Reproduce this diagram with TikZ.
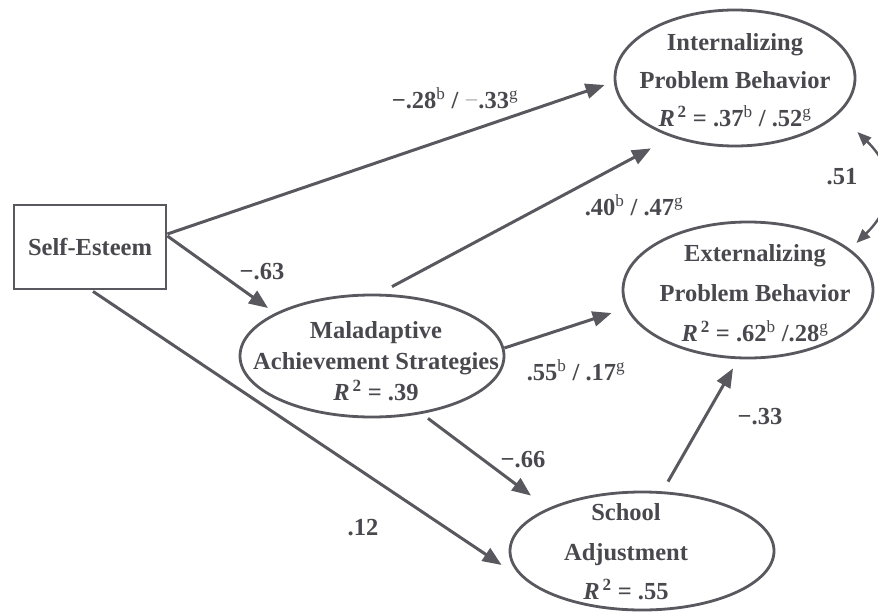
\documentclass[tikz,border=0pt]{standalone}
\usepackage{fontspec}
\setmainfont{Liberation Serif}
\usetikzlibrary{arrows.meta,shapes.geometric,calc}
\definecolor{ink}{RGB}{72,72,78}
\definecolor{linec}{RGB}{88,88,94}
\definecolor{faint}{RGB}{195,195,200}
% superscript group tags (b, g) in lighter weight; squared R keeps its bold 2
\newcommand{\hi}[1]{\textsuperscript{\mdseries#1}}
\newcommand{\sq}{\textsuperscript{\,2}}
\begin{document}
\begin{tikzpicture}[x=1pt,y=-1pt,
  every node/.style={text=ink, font=\bfseries\fontsize{24.5}{30}\selectfont},
  latent/.style={draw=linec, line width=2.8pt, ellipse, inner sep=0pt},
  observed/.style={draw=linec, line width=2.8pt, rectangle, inner sep=0pt},
  inner/.style={align=center, inner sep=0pt},
  pathc/.style={draw=linec, line width=3pt, -{Triangle[length=19pt,width=15pt]}},
  covc/.style={draw=linec, line width=2.4pt,
    {Triangle[length=14pt,width=11pt]}-{Triangle[length=14pt,width=11pt]}},
  coef/.style={inner sep=0pt}]
\useasboundingbox (0,0) rectangle (878,615);
\begin{scope}
\clip (0,0) rectangle (878,615);

% variables
\node[observed, minimum width=152pt, minimum height=84pt] (se) at (90,247) {Self-Esteem};
\node[latent, minimum width=240pt, minimum height=136pt] (int) at (735,78) {};
\node[latent, minimum width=250pt, minimum height=136pt] (ext) at (748,290) {};
\node[latent, minimum width=264pt, minimum height=122pt] (mal) at (372,356) {};
\node[latent, minimum width=264pt, minimum height=118pt] (sa) at (642,551) {};

% texts inside the ellipses
\node[inner, font=\bfseries\fontsize{24.5}{38}\selectfont] (intT) at (735,80)
  {Internalizing\\Problem Behavior\\\textit{R}\sq{} = .37\hi{b} / .52\hi{g}};
\node[inner, font=\bfseries\fontsize{24.5}{40}\selectfont] (extT) at (755,293)
  {Externalizing\\Problem Behavior\\\textit{R}\sq{} = .62\hi{b} /.28\hi{g}};
\node[inner, font=\bfseries\fontsize{24.5}{31}\selectfont] (malT) at (376,361)
  {Maladaptive\\Achievement Strategies\\\textit{R}\sq{} = .39};
\node[inner, font=\bfseries\fontsize{24.5}{39.5}\selectfont] (saT) at (626,552)
  {School\\Adjustment\\\textit{R}\sq{} = .55};

% structural paths
\draw[pathc] ($(se.east)+(0,-13)$) -- ($(int.west)+(-9,7)$);
\draw[pathc] ($(se.east)+(0,-11)$) -- ($(mal.center)+(-104,-48)$);
\draw[pathc] ($(se.south)+(3,1)$) -- ($(sa.west)+(-7,14)$);
\draw[pathc] ($(mal.north)+(20,-7)$) -- ($(int.south)+(-84,1)$);
\draw[pathc] ($(mal.east)+(-1,-8)$) -- ($(ext.west)+(-10,23)$);
\draw[pathc] ($(mal.south)+(56,0)$) -- ($(sa.north)+(-111,5)$);
\draw[pathc] ($(sa.north)+(26,-9)$) -- ($(ext.south)+(-15,9)$);

% residual correlation
\draw[covc] ($(int.east)+(1,54)$) .. controls ($(int.east)+(40,92)$) and ($(ext.east)+(21,-85)$) .. ($(ext.east)+(-18,-47)$);
\end{scope}

% coefficients
\node[coef] (c1) at (455,98) {−.28\hi{b} / \textcolor{faint}{−}.33\hi{g}};
\node[coef] (c2) at (262,272) {−.63};
\node[coef] (c3) at (363,528) {.12};
\node[coef] (c4) at (634,205) {.40\hi{b} / .47\hi{g}};
\node[coef] (c5) at (576,370) {.55\hi{b} / .17\hi{g}};
\node[coef] (c6) at (523,460) {−.66};
\node[coef] (c7) at (760,417) {−.33};
\node[coef] (c8) at (842,177) {.51};
\end{tikzpicture}
\end{document}
